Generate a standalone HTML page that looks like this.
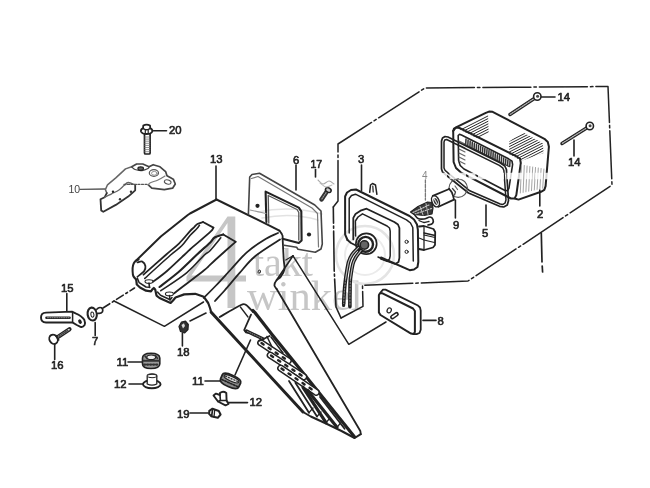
<!DOCTYPE html>
<html><head><meta charset="utf-8"><title>diagram</title>
<style>
html,body{margin:0;padding:0;background:#fff;}
body{width:650px;height:488px;overflow:hidden;font-family:"Liberation Sans",sans-serif;}
svg{display:block;}
</style></head><body>
<svg width="650" height="488" viewBox="0 0 650 488" stroke-linecap="round" stroke-linejoin="round">
<defs><filter id="b" x="0" y="0" width="650" height="488" filterUnits="userSpaceOnUse"><feGaussianBlur stdDeviation="0.38"/></filter></defs>
<rect width="650" height="488" fill="#fff"/>
<g filter="url(#b)">
<path d="M227.5 216.5 L235.3 216.5 L235.3 275.6 L246 275.6 L246 281.4 L235.3 281.4 L235.3 308 L227.5 308 L227.5 281.4 L186.5 281.4 L186.5 276.5 Z M227.5 223 L191.5 275.6 L227.5 275.6 Z" fill="#c6c6c6" fill-rule="evenodd"/>
<text x="253" y="275.5" font-size="40" fill="#c6c6c6" font-weight="normal" text-anchor="start" font-family="'Liberation Serif', serif" >takt</text>
<text x="247" y="309.5" font-size="42.5" fill="#c6c6c6" font-weight="normal" text-anchor="start" font-family="'Liberation Serif', serif" >winkel</text>
<circle cx="365" cy="255" r="29" fill="none" stroke="#e4e4e4" stroke-width="2.5"/>
<circle cx="365" cy="255" r="20" fill="none" stroke="#ebebeb" stroke-width="2"/>
<path d="M258 212 Q290 205 322 214 M262 218 Q292 212 318 220" fill="none" stroke="#e2e2e2" stroke-width="1.5"/>
<path d="M341 318 L336 307 L334.2 270 L333.3 207" stroke="#222" stroke-width="1.6" fill="none" stroke-dasharray="40 3 2 3" />
<path d="M333.3 207 L338 201 L338 144 L425 88 L608 86.5 L612 185 L468 281 L362.5 285.4 L363 306.3 L341 318" stroke="#222" stroke-width="1.5" fill="none" stroke-dasharray="48 3 2.5 3" />
<path d="M541.3 233 L542 262" stroke="#222" stroke-width="1.7" fill="none" />
<path d="M542.2 266 L542.6 272" stroke="#222" stroke-width="1.7" fill="none" />
<path d="M293 255.8 L348.8 344.3 L386 322" stroke="#222" stroke-width="1.5" fill="none" />
<path d="M114 301 L164.4 326.3 L203.5 302" stroke="#222" stroke-width="1.5" fill="none" />
<path d="M103 308 L134.5 288" stroke="#222" stroke-width="1.6" fill="none" stroke-dasharray="8 3 2 3" />
<path d="M190 321 L206 313" stroke="#222" stroke-width="1.6" fill="none" />
<path d="M250.5 340 L235 375" stroke="#222" stroke-width="1.6" fill="none" />
<text x="169" y="133.9" font-size="11.3" fill="#222" font-weight="normal" text-anchor="start" font-family="'Liberation Sans', sans-serif" stroke="#222" stroke-width="0.6">20</text>
<text x="68.5" y="193.3" font-size="10.5" fill="#444" font-weight="normal" text-anchor="start" font-family="'Liberation Sans', sans-serif" >10</text>
<text x="210" y="163.1" font-size="11.3" fill="#222" font-weight="normal" text-anchor="start" font-family="'Liberation Sans', sans-serif" stroke="#222" stroke-width="0.6">13</text>
<text x="293" y="163.6" font-size="11.3" fill="#222" font-weight="normal" text-anchor="start" font-family="'Liberation Sans', sans-serif" stroke="#222" stroke-width="0.6">6</text>
<text x="310.5" y="167.6" font-size="10.5" fill="#222" font-weight="normal" text-anchor="start" font-family="'Liberation Sans', sans-serif" stroke="#222" stroke-width="0.6">17</text>
<text x="358" y="162.6" font-size="11.3" fill="#222" font-weight="normal" text-anchor="start" font-family="'Liberation Sans', sans-serif" stroke="#222" stroke-width="0.6">3</text>
<text x="422" y="178.5" font-size="10" fill="#888" font-weight="normal" text-anchor="start" font-family="'Liberation Sans', sans-serif" >4</text>
<text x="453" y="229.1" font-size="11.3" fill="#222" font-weight="normal" text-anchor="start" font-family="'Liberation Sans', sans-serif" stroke="#222" stroke-width="0.6">9</text>
<text x="482" y="237.1" font-size="11.3" fill="#222" font-weight="normal" text-anchor="start" font-family="'Liberation Sans', sans-serif" stroke="#222" stroke-width="0.6">5</text>
<text x="537" y="217.6" font-size="11.3" fill="#222" font-weight="normal" text-anchor="start" font-family="'Liberation Sans', sans-serif" stroke="#222" stroke-width="0.6">2</text>
<text x="557.5" y="101.1" font-size="11.3" fill="#222" font-weight="normal" text-anchor="start" font-family="'Liberation Sans', sans-serif" stroke="#222" stroke-width="0.6">14</text>
<text x="568" y="166.1" font-size="11.3" fill="#222" font-weight="normal" text-anchor="start" font-family="'Liberation Sans', sans-serif" stroke="#222" stroke-width="0.6">14</text>
<text x="437.5" y="325.1" font-size="11.3" fill="#222" font-weight="normal" text-anchor="start" font-family="'Liberation Sans', sans-serif" stroke="#222" stroke-width="0.6">8</text>
<text x="61" y="292.1" font-size="11.3" fill="#222" font-weight="normal" text-anchor="start" font-family="'Liberation Sans', sans-serif" stroke="#222" stroke-width="0.6">15</text>
<text x="92" y="345.1" font-size="11.3" fill="#222" font-weight="normal" text-anchor="start" font-family="'Liberation Sans', sans-serif" stroke="#222" stroke-width="0.6">7</text>
<text x="51" y="369.1" font-size="11.3" fill="#222" font-weight="normal" text-anchor="start" font-family="'Liberation Sans', sans-serif" stroke="#222" stroke-width="0.6">16</text>
<text x="177" y="356.1" font-size="11.3" fill="#222" font-weight="normal" text-anchor="start" font-family="'Liberation Sans', sans-serif" stroke="#222" stroke-width="0.6">18</text>
<text x="116.5" y="366.1" font-size="11.3" fill="#222" font-weight="normal" text-anchor="start" font-family="'Liberation Sans', sans-serif" stroke="#222" stroke-width="0.6">11</text>
<text x="114" y="388.1" font-size="11.3" fill="#222" font-weight="normal" text-anchor="start" font-family="'Liberation Sans', sans-serif" stroke="#222" stroke-width="0.6">12</text>
<text x="192" y="385.1" font-size="11.3" fill="#222" font-weight="normal" text-anchor="start" font-family="'Liberation Sans', sans-serif" stroke="#222" stroke-width="0.6">11</text>
<text x="249.5" y="406.1" font-size="11.3" fill="#222" font-weight="normal" text-anchor="start" font-family="'Liberation Sans', sans-serif" stroke="#222" stroke-width="0.6">12</text>
<text x="177" y="418.1" font-size="11.3" fill="#222" font-weight="normal" text-anchor="start" font-family="'Liberation Sans', sans-serif" stroke="#222" stroke-width="0.6">19</text>
<path d="M153.5 130.7 L166.5 130.7" stroke="#222" stroke-width="1.6" fill="none" />
<path d="M80 189.4 L105 189" stroke="#555" stroke-width="1.3" fill="none" />
<path d="M216 166 L216 200" stroke="#222" stroke-width="1.6" fill="none" />
<path d="M296 165 L296 190" stroke="#222" stroke-width="1.6" fill="none" />
<path d="M315.5 169.5 L315.5 177" stroke="#222" stroke-width="1.6" fill="none" />
<path d="M361.5 165 L361.5 190.5" stroke="#222" stroke-width="1.6" fill="none" />
<path d="M425.4 180 L425.4 200" stroke="#777" stroke-width="1.3" fill="none" stroke-dasharray="3 1.5" />
<path d="M455.4 200 L455.4 218" stroke="#222" stroke-width="1.6" fill="none" />
<path d="M486 205 L486 226" stroke="#222" stroke-width="1.6" fill="none" />
<path d="M539.8 190 L539.8 206" stroke="#222" stroke-width="1.6" fill="none" />
<path d="M540 97 L555 97" stroke="#222" stroke-width="1.6" fill="none" />
<path d="M574 140 L574 156" stroke="#222" stroke-width="1.6" fill="none" />
<path d="M423 320.4 L436 320.4" stroke="#222" stroke-width="1.6" fill="none" />
<path d="M66.8 293.5 L66.8 311" stroke="#222" stroke-width="1.6" fill="none" />
<path d="M95.2 322.5 L95.2 335.5" stroke="#222" stroke-width="1.6" fill="none" />
<path d="M54.7 344.5 L54.7 359.5" stroke="#222" stroke-width="1.6" fill="none" />
<path d="M182.4 333 L182.4 346" stroke="#222" stroke-width="1.6" fill="none" />
<path d="M128 362 L142 362" stroke="#222" stroke-width="1.6" fill="none" />
<path d="M129 384 L143 384" stroke="#222" stroke-width="1.6" fill="none" />
<path d="M205 381 L220 381" stroke="#222" stroke-width="1.6" fill="none" />
<path d="M228 402.6 L247.5 402.6" stroke="#222" stroke-width="1.6" fill="none" />
<path d="M190 413 L208 413" stroke="#222" stroke-width="1.6" fill="none" />
<path d="M136.2 260.5 L160.8 236.5 L187.8 215 L190 213.5 L216.5 199.5" stroke="#222" stroke-width="2" fill="none" />
<path d="M216.5 199.5 L270 225.8 L279.4 230.7" stroke="#222" stroke-width="2" fill="none" />
<path d="M138.6 259.5 C138 259.8 135.9 260.5 135 261.5 C134.1 262.5 133.4 263.9 133 265.5 C132.6 267.1 132.5 269.2 132.6 271 C132.7 272.8 132.7 274.6 133.3 276 C133.9 277.4 135.7 279 136.2 279.6" stroke="#222" stroke-width="2" fill="none" />
<path d="M137.4 262.4 C138.2 262.3 141 261 142.3 261.6 C143.6 262.2 145.1 264.4 145.4 266 C145.7 267.6 145.5 269.2 144.2 271 C142.9 272.8 138.5 275.8 137.4 276.8" stroke="#222" stroke-width="1.8" fill="none" />
<path d="M136.2 279.6 L136.8 284.5 L140 287.5 L146 290.7 L151 291.3 L152.3 289.4 L153.8 288 L155.2 289.5 L156.5 295.6 L159.5 298 L170.6 303 L173 300.5 L175.5 297.5 L184.2 294.4 L195.2 293.8 L203.8 296.8 L208.2 303 L210 308 L211.2 312.3" stroke="#222" stroke-width="2.2" fill="none" />
<path d="M137.4 278.4 L139.2 282.7 L146 287 L149.7 287.3" stroke="#222" stroke-width="1.5" fill="none" />
<path d="M157.5 292 L160.5 295.3 L170.2 299.8 L172 297.5" stroke="#222" stroke-width="1.5" fill="none" />
<path d="M149 283 L149.5 287.5" stroke="#222" stroke-width="1.6" fill="none" />
<path d="M169.5 295.5 L170 300" stroke="#222" stroke-width="1.6" fill="none" />
<ellipse cx="149" cy="281.6" rx="4" ry="1.9" fill="none" stroke="#222" stroke-width="1.1"/>
<ellipse cx="169.4" cy="293.9" rx="4" ry="1.9" fill="none" stroke="#222" stroke-width="1.1"/>
<path d="M143.5 274.7 C147.2 271.4 159.8 260.2 165.7 255 C171.6 249.8 175.1 247.3 179.2 243.3 C183.2 239.3 187.5 233.9 190 231.2 C192.5 228.5 192.8 228.5 194 227.3 C195.2 226.1 195.9 224.9 197.4 224 C198.9 223.1 202.1 222.3 203 222" stroke="#222" stroke-width="1.8" fill="none" />
<path d="M144.8 278.4 C149.1 274.5 164.4 260.4 170.6 255 C176.8 249.6 178.5 249.1 181.7 245.8 C184.9 242.6 187.4 238.4 190 235.5 C192.6 232.6 195.4 230.2 197 228.5 C198.6 226.8 199 225.8 199.4 225.3" stroke="#222" stroke-width="1.6" fill="none" />
<path d="M203 222 L213.4 227.6" stroke="#222" stroke-width="1.8" fill="none" />
<path d="M213.4 227.6 C212.8 228.4 213.9 228.5 210 232.2 C206.1 235.8 194.3 245.7 190 249.5 C185.7 253.3 188 251.4 184.2 255 C180.4 258.6 172.1 266.6 167 271 C161.9 275.4 155.7 279.8 153.4 281.5" stroke="#222" stroke-width="1.8" fill="none" />
<path d="M159.5 287 C162.7 284.5 172.4 277.3 178.6 272 C184.8 266.7 191.3 259.9 196.5 255 C201.7 250.1 207 245.6 210 242.7 C213 239.8 212.4 238.9 214.6 237.5 C216.8 236.1 221.8 234.9 223.2 234.4" stroke="#222" stroke-width="2.1" fill="none" />
<path d="M160.8 290.7 C165.1 287.7 179.4 278.7 186.6 272.8 C193.8 266.9 199.9 259.2 203.8 255.5 C207.7 251.8 207.2 253.6 210 250.7 C212.8 247.8 219 240 220.8 237.8" stroke="#222" stroke-width="1.6" fill="none" />
<path d="M223.2 234.4 L235.6 241.8" stroke="#222" stroke-width="1.8" fill="none" />
<path d="M235.6 241.8 C233.1 244 225.1 251.2 220.8 255 C216.5 258.8 212.8 262.2 210 264.8 C207.2 267.4 209.8 265.8 203.8 270.5 C197.9 275.2 179.2 289.4 174.3 293.2" stroke="#222" stroke-width="1.8" fill="none" />
<path d="M278 233 C275.7 234.2 269.2 236.8 264 240 C258.8 243.2 252.3 247.4 246.8 252.3 C241.3 257.2 235.9 264 230.8 269.5 C225.7 275 220.5 280.8 216 285.5 C211.5 290.2 205.8 295.8 203.7 297.8" stroke="#222" stroke-width="1.8" fill="none" />
<path d="M280 239.5 C275.9 242.2 262.2 250.4 255.4 256 C248.6 261.6 244.5 267.4 239.4 273.2 C234.3 278.9 228.7 285.9 224.6 290.5 C220.5 295.1 216.6 299.2 215 301" stroke="#222" stroke-width="1.8" fill="none" />
<path d="M279.4 230.7 C279.9 231.4 281.8 233.4 282.3 235 C282.9 236.6 282.5 235.9 282.7 240 C282.9 244.1 283.4 254.5 283.7 259.4 C284 264.3 284.9 266.6 284.4 269.5 C283.9 272.4 282.1 274.8 280.8 276.6 C279.5 278.4 277.6 278.8 276.5 280.2 C275.4 281.6 274.4 283.9 274.4 285.3 C274.4 286.7 276.1 288.2 276.5 288.8" stroke="#222" stroke-width="1.8" fill="none" />
<path d="M293 255.8 L276.5 280.2" stroke="#222" stroke-width="1.6" fill="none" />
<path d="M293 255.8 L285.8 260" stroke="#222" stroke-width="1.3" fill="none" />
<path d="M276.5 288.8 L306 338.8 L360.3 431 L360.8 434.2" stroke="#222" stroke-width="1.8" fill="none" />
<ellipse cx="259.3" cy="271.6" rx="1.1" ry="1.7" transform="rotate(20 259.3 271.6)" fill="none" stroke="#222" stroke-width="0.9"/>
<path d="M211.2 312.3 L303 412" stroke="#222" stroke-width="3" fill="none" />
<path d="M303 412 L310.8 416.5 L326 423.5 L341.5 431 L354.6 438 L360.8 434.2" stroke="#222" stroke-width="2" fill="none" />
<path d="M219.7 317 C223 315.1 235.1 307.9 239.4 305.8 C243.7 303.7 243.2 303.6 245.5 304.6 C247.8 305.6 251.8 310.8 253 312" stroke="#222" stroke-width="1.8" fill="none" />
<path d="M253 310.5 L254.7 312.3 L272 334.5 L306 376.5 L354.6 437" stroke="#222" stroke-width="3.2" fill="none" />
<path d="M248.4 214 L249.7 177 L252 174.5 L259.5 173.2 L314.8 205 L321 211 L322.3 244 L321 249 L315.3 252.3 L298 249.2 L296.6 247.2 L284 245.3" stroke="#444" stroke-width="1.6" fill="none" />
<path d="M251.5 178.5 L258 176.5 L312 208 L317.5 213.5 L318.5 247" stroke="#777" stroke-width="1.2" fill="none" />
<path d="M266.4 222 L265.6 191.6 L298.8 207.6 L301.3 211.3 L301.6 240.5 L298.8 243 L282.5 238.8" stroke="#222" stroke-width="2.1" fill="none" />
<path d="M268.8 223 L268.2 195.5 L297 209.5 L298.8 212.5 L298.8 240" stroke="#555" stroke-width="1.3" fill="none" />
<circle cx="257.5" cy="205.8" r="2.1" fill="#222"/>
<circle cx="309" cy="234.5" r="2.1" fill="#222"/>
<path d="M250 210 L266 213.5" stroke="#999" stroke-width="1.1" fill="none" />
<path d="M327.5 190.5 L321.5 199.5" stroke="#333" stroke-width="4.5" fill="none" />
<path d="M327.3 190.8 L321.7 199.2" stroke="#999" stroke-width="1.1" fill="none" stroke-dasharray="1 1.2" />
<ellipse cx="328.3" cy="190" rx="3" ry="2.1" fill="#ccc" stroke="#222" stroke-width="1.5" transform="rotate(30 328.3 190)"/>
<path d="M318 180 C318.8 180.7 321.2 183.8 323 184 C324.8 184.2 327.2 181 329 181 C330.8 181 333.2 183.5 334 184" stroke="#aaa" stroke-width="1.1" fill="none" />
<path d="M320 183 C321 183.7 324 186.7 326 187 C328 187.3 331 185.3 332 185" stroke="#bbb" stroke-width="1.1" fill="none" />
<path d="M347.5 240 L345.1 234.3 L345.1 196.5 L347 192.5 L351 190 L356 189.5 L409.5 216 L414 219.5 L417 224.5 L417.9 230 L418.3 262 L417.5 267 L414 269.5 L409.7 270.2 L381 257.5" stroke="#222" stroke-width="2" fill="none" />
<path d="M347.5 240 L351 243 L357 246" stroke="#222" stroke-width="1.8" fill="none" />
<path d="M349.2 233 L349.2 198.5 L351.5 195.5 L355.4 194.2 L406.5 219.8 L410.5 223 L412.8 227.5 L413.3 261" stroke="#222" stroke-width="1.5" fill="none" />
<path d="M353.3 239.4 L353.3 217.9 L355.5 214 L360.5 210.7 L366.6 208.7 L394.3 222 L398 224.5 L399.4 228 L399.4 257.9 L398.5 262 L395.3 264 L381 258.9" stroke="#222" stroke-width="1.8" fill="none" />
<path d="M355.6 236 L355.4 221 L358 217 L362.5 213.8 L387.1 226 L389.5 228 L390.2 231.2 L390.2 255.8 L389.5 259 L387.1 261 L378 257" stroke="#222" stroke-width="1.5" fill="none" />
<path d="M369.7 192.3 L370.5 185 L372.5 183.5 L375.5 185 L376.9 194.3" stroke="#222" stroke-width="1.5" fill="none" />
<path d="M372.8 186 L373.2 192" stroke="#222" stroke-width="1.2" fill="none" />
<circle cx="366.3" cy="243.8" r="10.4" fill="#fff" stroke="#222" stroke-width="1.7"/>
<circle cx="365.6" cy="244.3" r="7.4" fill="none" stroke="#222" stroke-width="2.4"/>
<circle cx="364.4" cy="245" r="4.2" fill="#666" stroke="#222" stroke-width="1.6"/>
<path d="M358.5 247.5 C357.5 248.6 354.1 251.6 352.5 254 C350.9 256.4 349.8 257.8 348.6 262 C347.5 266.2 346.3 274 345.6 279 C344.9 284 344.6 287.8 344.3 292 C344 296.2 343.8 302 343.7 304" stroke="#1c1c1c" stroke-width="3.6" fill="none" />
<path d="M358.5 247.5 C357.5 248.6 354.1 251.6 352.5 254 C350.9 256.4 349.8 257.8 348.6 262 C347.5 266.2 346.1 276.2 345.6 279" stroke="#bbb" stroke-width="1.1" fill="none" />
<path d="M345.6 279 C345.4 281.2 344.6 287.8 344.3 292 C344 296.2 343.8 302 343.7 304" stroke="#888" stroke-width="1.1" fill="none" stroke-dasharray="1.5 1.5" />
<path d="M361 250.5 C360.2 251.6 357.4 254.7 356 257 C354.6 259.3 353.7 260.7 352.8 264.4 C351.9 268.1 350.9 274.4 350.4 279 C349.9 283.6 350.1 287.5 350 292 C349.9 296.5 349.9 303.7 349.9 306" stroke="#1c1c1c" stroke-width="3.6" fill="none" />
<path d="M361 250.5 C360.2 251.6 357.4 254.7 356 257 C354.6 259.3 353.7 260.7 352.8 264.4 C351.9 268.1 350.8 276.6 350.4 279" stroke="#bbb" stroke-width="1.1" fill="none" />
<path d="M350.4 279 C350.3 281.2 350.1 287.5 350 292 C349.9 296.5 349.9 303.7 349.9 306" stroke="#888" stroke-width="1.1" fill="none" stroke-dasharray="1.5 1.5" />
<circle cx="343.6" cy="305.5" r="1.6" fill="#222"/><circle cx="349.9" cy="307" r="1.6" fill="#222"/>
<circle cx="406.6" cy="241.8" r="1.6" fill="#fff" stroke="#222" stroke-width="1"/>
<circle cx="406.6" cy="251.8" r="1.6" fill="#fff" stroke="#222" stroke-width="1"/>
<path d="M410.5 212 L418 206.5 L427.5 202 L432 202.5 L433 208 L432 214 L424 215.5 L414 214.5 Z" fill="#3a3a3a" stroke="#222" stroke-width="1.2"/>
<path d="M413 212.5 L430 204.5" stroke="#ccc" stroke-width="1.1" fill="none" stroke-dasharray="1.5 1.2" />
<path d="M415 214 L431.5 208.5" stroke="#ccc" stroke-width="1.1" fill="none" stroke-dasharray="1.2 1.5" />
<path d="M420 206.5 L423 215" stroke="#ccc" stroke-width="0.9" fill="none" />
<path d="M426 203.5 L428 214.5" stroke="#bbb" stroke-width="0.9" fill="none" />
<path d="M414.8 215 C415.3 215.6 416.5 217.8 418 218.5 C419.5 219.2 422 219.2 424 219 C426 218.8 428.5 216.9 430 217 C431.5 217.1 432.6 218.4 433 219.5 C433.4 220.6 433.3 222.6 432.5 223.5 C431.7 224.4 428.8 224.8 428 225" stroke="#222" stroke-width="1.7" fill="none" />
<path d="M419 220.5 C419.8 220.8 422.3 222.3 424 222.5 C425.7 222.7 428.2 221.7 429 221.5" stroke="#222" stroke-width="1.3" fill="none" />
<path d="M419 226.5 L424 226 L433.5 229 L435.2 232 L435 245 L433 247.5 L424 250 L419 249" stroke="#222" stroke-width="1.8" fill="none" />
<path d="M424 233 L435 235.5" stroke="#222" stroke-width="1.5" fill="none" />
<path d="M424 235 L435 237.5" stroke="#222" stroke-width="1.2" fill="none" />
<path d="M424 226.5 L424 250" stroke="#222" stroke-width="1.3" fill="none" />
<path d="M419 238 L424 240 L434.5 242.5" stroke="#222" stroke-width="1.2" fill="none" />
<path d="M453.2 131 L454 128.5 L457 126.8 L485.8 112.9 L489 111.6 L492.6 111.8 L544.4 138.8 L547.8 142 L548.9 146.7 L545.6 186.1 L544.3 189.8 L541 191.8 L518.5 199.6 L515.5 198.8" stroke="#222" stroke-width="2" fill="none" />
<path d="M453.2 131 L453.6 162 L456 168 L461 172.6 L511 198.5 L514.5 198.6 L516.3 195.1 L520.8 163 L520 158.5 L515.1 155.7 L459.5 128 L456 127.5 L453.2 131" stroke="#222" stroke-width="2" fill="none" />
<path d="M458.2 135.5 L458.6 160.5 L460.2 165.5 L464 169 L505 190.5 L507.6 190.6 L509 188 L512.6 164.5 L512 161.2 L508.5 158.8 L462 135.3 L459.5 134.3 L458.2 135.5" stroke="#222" stroke-width="1.6" fill="none" />
<clipPath id="hc1"><path d="M457.5 128.6 L488 113.2 L489 144 Z"/></clipPath>
<clipPath id="hc2"><path d="M509.2 141.4 L522.3 132 L542.8 143.3 L543.6 153 L521.5 160.8 L509.2 154.3 Z"/></clipPath>
<g clip-path="url(#hc1)">
<path d="M457.2 131.6 L496.2 111.8" stroke="#2a2a2a" stroke-width="1" fill="none" />
<path d="M459.9 132.9 L498.9 113.1" stroke="#2a2a2a" stroke-width="1" fill="none" />
<path d="M462.6 134.2 L501.6 114.4" stroke="#2a2a2a" stroke-width="1" fill="none" />
<path d="M465.3 135.5 L504.3 115.7" stroke="#2a2a2a" stroke-width="1" fill="none" />
<path d="M468 136.8 L507 117" stroke="#2a2a2a" stroke-width="1" fill="none" />
<path d="M470.7 138.1 L509.7 118.3" stroke="#2a2a2a" stroke-width="1" fill="none" />
<path d="M473.4 139.4 L512.4 119.6" stroke="#2a2a2a" stroke-width="1" fill="none" />
</g>
<g clip-path="url(#hc2)">
<path d="M493.2 149.5 L539.2 126.1" stroke="#2a2a2a" stroke-width="1" fill="none" />
<path d="M495.9 150.8 L541.9 127.4" stroke="#2a2a2a" stroke-width="1" fill="none" />
<path d="M498.6 152.1 L544.6 128.7" stroke="#2a2a2a" stroke-width="1" fill="none" />
<path d="M501.3 153.4 L547.3 130" stroke="#2a2a2a" stroke-width="1" fill="none" />
<path d="M504 154.7 L550 131.3" stroke="#2a2a2a" stroke-width="1" fill="none" />
<path d="M506.7 156 L552.7 132.6" stroke="#2a2a2a" stroke-width="1" fill="none" />
<path d="M509.4 157.3 L555.4 133.9" stroke="#2a2a2a" stroke-width="1" fill="none" />
<path d="M512.1 158.6 L558.1 135.2" stroke="#2a2a2a" stroke-width="1" fill="none" />
<path d="M514.8 159.9 L560.8 136.5" stroke="#2a2a2a" stroke-width="1" fill="none" />
<path d="M517.5 161.2 L563.5 137.8" stroke="#2a2a2a" stroke-width="1" fill="none" />
<path d="M520.2 162.5 L566.2 139.1" stroke="#2a2a2a" stroke-width="1" fill="none" />
<path d="M522.9 163.8 L568.9 140.4" stroke="#2a2a2a" stroke-width="1" fill="none" />
<path d="M525.6 165.1 L571.6 141.7" stroke="#2a2a2a" stroke-width="1" fill="none" />
</g>
<path d="M521.5 165 L520.3 193" stroke="#999" stroke-width="0.9" fill="none" />
<path d="M524.3 165.5 L523.1 192.4" stroke="#999" stroke-width="0.9" fill="none" />
<path d="M527.1 166 L525.9 191.8" stroke="#999" stroke-width="0.9" fill="none" />
<path d="M529.9 166.5 L528.7 191.2" stroke="#999" stroke-width="0.9" fill="none" />
<path d="M532.7 167 L531.5 190.6" stroke="#999" stroke-width="0.9" fill="none" />
<path d="M535.5 167.5 L534.3 190" stroke="#999" stroke-width="0.9" fill="none" />
<path d="M538.3 168 L537.1 189.4" stroke="#999" stroke-width="0.9" fill="none" />
<path d="M541.1 168.5 L539.9 188.8" stroke="#999" stroke-width="0.9" fill="none" />
<path d="M543.9 169 L542.7 188.2" stroke="#999" stroke-width="0.9" fill="none" />
<path d="M466 139 L465.7 144.5" stroke="#333" stroke-width="1.5" fill="none" />
<path d="M468.1 140 L467.8 145.5" stroke="#333" stroke-width="1.5" fill="none" />
<path d="M470.2 141.1 L469.9 146.6" stroke="#333" stroke-width="1.5" fill="none" />
<path d="M472.3 142.1 L472 147.6" stroke="#333" stroke-width="1.5" fill="none" />
<path d="M474.4 143.2 L474.1 148.7" stroke="#333" stroke-width="1.5" fill="none" />
<path d="M476.5 144.2 L476.2 149.7" stroke="#333" stroke-width="1.5" fill="none" />
<path d="M478.6 145.3 L478.3 150.8" stroke="#333" stroke-width="1.5" fill="none" />
<path d="M480.7 146.3 L480.4 151.8" stroke="#333" stroke-width="1.5" fill="none" />
<path d="M482.8 147.4 L482.5 152.9" stroke="#333" stroke-width="1.5" fill="none" />
<path d="M484.9 148.4 L484.6 153.9" stroke="#333" stroke-width="1.5" fill="none" />
<path d="M487 149.5 L486.7 155" stroke="#333" stroke-width="1.5" fill="none" />
<path d="M489 150.5 L488.7 156" stroke="#333" stroke-width="1.5" fill="none" />
<path d="M491.1 151.6 L490.8 157.1" stroke="#333" stroke-width="1.5" fill="none" />
<path d="M493.2 152.6 L492.9 158.1" stroke="#333" stroke-width="1.5" fill="none" />
<path d="M495.3 153.7 L495 159.2" stroke="#333" stroke-width="1.5" fill="none" />
<path d="M497.4 154.7 L497.1 160.2" stroke="#333" stroke-width="1.5" fill="none" />
<path d="M499.5 155.8 L499.2 161.3" stroke="#333" stroke-width="1.5" fill="none" />
<path d="M501.6 156.8 L501.3 162.3" stroke="#333" stroke-width="1.5" fill="none" />
<path d="M503.7 157.9 L503.4 163.4" stroke="#333" stroke-width="1.5" fill="none" />
<path d="M505.8 158.9 L505.5 164.4" stroke="#333" stroke-width="1.5" fill="none" />
<path d="M507.9 160 L507.6 165.5" stroke="#333" stroke-width="1.5" fill="none" />
<path d="M510 161 L509.7 166.5" stroke="#333" stroke-width="1.5" fill="none" />
<path d="M464 144 L509 166.5" stroke="#333" stroke-width="1.3" fill="none" />
<path d="M459 141 L465 144" stroke="#666" stroke-width="1.1" fill="none" />
<path d="M459 145 L465 148" stroke="#666" stroke-width="1.1" fill="none" />
<path d="M459 149 L465 152" stroke="#666" stroke-width="1.1" fill="none" />
<path d="M459 153 L465 156" stroke="#666" stroke-width="1.1" fill="none" />
<path d="M459 157 L465 160" stroke="#666" stroke-width="1.1" fill="none" />
<path d="M459 161 L465 164" stroke="#666" stroke-width="1.1" fill="none" />
<path d="M441.5 141 L442.5 138 L445 136.5 L448 137 L500.5 163 L504.8 166 L506.4 169.3 L508.5 200.5 L507.3 205 L503.7 207 L499.5 206.3 L468.5 193 L446 175 L442.5 172 L441.5 169 Z" stroke="#222" stroke-width="1.7" fill="none" />
<path d="M444 142 L444.7 140 L446.7 139.5 L499.3 165.3 L502.7 167.8 L503.9 170.5 L506 199.8 L505.1 203 L503 204.4 L500.2 204 L469.8 190.8 L447.6 172.6 L445 170.2 L444 168 Z" stroke="#222" stroke-width="1.5" fill="none" />
<circle cx="458.2" cy="188.1" r="9.2" fill="none" stroke="#555" stroke-width="1.2"/>
<path d="M432.8 195.8 L449.2 189 L454 199.6 L438.5 206.8 Z" fill="#fff" stroke="none"/>
<path d="M432.8 195.8 L449.2 189" stroke="#222" stroke-width="1.8" fill="none" />
<path d="M438.5 206.8 L454 199.6" stroke="#222" stroke-width="1.8" fill="none" />
<ellipse cx="435.5" cy="201.3" rx="3.6" ry="5.8" transform="rotate(-22 435.5 201.3)" fill="#fff" stroke="#222" stroke-width="1.5"/>
<ellipse cx="435.8" cy="201.5" rx="2.0" ry="3.6" transform="rotate(-22 435.8 201.5)" fill="#333" stroke="none"/>
<path d="M434 198.5 L437.5 204.5" stroke="#ddd" stroke-width="1.1" fill="none" />
<path d="M449.2 189 C449.7 189.6 451.2 190.7 452 192.5 C452.8 194.3 453.7 198.4 454 199.6" stroke="#222" stroke-width="1.7" fill="none" />
<path d="M452.5 188.5 L455.5 192 L454.5 195" stroke="#444" stroke-width="1.3" fill="none" />
<path d="M455 186 L457.5 189.5" stroke="#666" stroke-width="1.2" fill="none" />
<path d="M537.3 96.5 L510 114.5" stroke="#222" stroke-width="3.4" fill="none" />
<path d="M537.3 96.5 L510 114.5" stroke="#bbb" stroke-width="1.2" fill="none" stroke-dasharray="1.2 1.2" />
<circle cx="537.3" cy="96.5" r="3.7" fill="#fff" stroke="#222" stroke-width="1.6"/>
<circle cx="537.5999999999999" cy="96.3" r="1.5" fill="#444"/>
<path d="M589.8 126 L562 143.5" stroke="#222" stroke-width="3.4" fill="none" />
<path d="M589.8 126 L562 143.5" stroke="#bbb" stroke-width="1.2" fill="none" stroke-dasharray="1.2 1.2" />
<circle cx="589.8" cy="126" r="3.7" fill="#fff" stroke="#222" stroke-width="1.6"/>
<circle cx="590.0999999999999" cy="125.8" r="1.5" fill="#444"/>
<path d="M378.9 295 L380 293.2 L382 293.2 L413 308.5 L414.9 311 L414.9 332 L413.5 334 L411 333.6 L380.5 315 L378.9 312.5 Z" stroke="#222" stroke-width="2" fill="none" />
<path d="M380.5 292.5 L383 289.6 L385.5 289.6 L417.4 305.2 L420 307.5 L420.7 310.5 L420.7 329.8 L419.5 333 L416.6 334.2 L413.5 334" stroke="#222" stroke-width="1.8" fill="none" />
<ellipse cx="389.2" cy="310.4" rx="2.0" ry="2.6" transform="rotate(25 389.2 310.4)" fill="#fff" stroke="#222" stroke-width="1.2"/>
<path d="M392.3 317.2 L396.6 314.2" stroke="#222" stroke-width="4.5" fill="none" />
<path d="M392.5 317 L396.4 314.4" stroke="#fff" stroke-width="1.6" fill="none" />
<rect x="144.5" y="133" width="5.6" height="21" rx="1" fill="#fff" stroke="#222" stroke-width="1.7"/>
<path d="M144.8 137 L149.8 137" stroke="#777" stroke-width="0.8" fill="none" />
<path d="M144.8 139.1 L149.8 139.1" stroke="#777" stroke-width="0.8" fill="none" />
<path d="M144.8 141.2 L149.8 141.2" stroke="#777" stroke-width="0.8" fill="none" />
<path d="M144.8 143.3 L149.8 143.3" stroke="#777" stroke-width="0.8" fill="none" />
<path d="M144.8 145.4 L149.8 145.4" stroke="#777" stroke-width="0.8" fill="none" />
<path d="M144.8 147.5 L149.8 147.5" stroke="#777" stroke-width="0.8" fill="none" />
<path d="M144.8 149.6 L149.8 149.6" stroke="#777" stroke-width="0.8" fill="none" />
<path d="M144.8 151.7 L149.8 151.7" stroke="#777" stroke-width="0.8" fill="none" />
<path d="M141 131.5 Q140.6 128.8 143 128.3 L143.3 125.5 Q146.5 123.6 150 125.5 L150.3 128.3 Q152.6 128.8 152.3 131.5 Q151.5 134 146.6 134 Q141.8 134 141 131.5 Z" fill="#fff" stroke="#222" stroke-width="1.8"/>
<path d="M143 128.5 C143.6 128.7 145.4 129.8 146.6 129.8 C147.8 129.8 149.7 128.7 150.3 128.5" stroke="#222" stroke-width="1.5" fill="none" />
<path d="M145.3 129.8 L145.3 133" stroke="#222" stroke-width="1.2" fill="none" />
<path d="M148.2 129.8 L148.2 133" stroke="#222" stroke-width="1.2" fill="none" />
<path d="M131.7 166.8 L136.6 164 L142.8 164 L149 166.8 L153.2 164.7 L160 166.8 L165.6 171.6 L167 175.8 L173.3 179.2 L175.3 184 L172.6 188.2 L164.3 189.6 L151.8 188.2 L148.3 184.8" stroke="#444" stroke-width="1.7" fill="none" />
<path d="M131.7 166.8 L125.5 168.9 L115.8 177.9 L107.5 184.8 L105.4 189.6 L106.8 193.1" stroke="#666" stroke-width="1.5" fill="none" />
<path d="M106.8 193.1 L104.7 197.2 L100.5 199.3 L101.2 210.4 L103.3 211.8 L115.8 204.9 L128.2 196.6 L135.2 190.3 L135.2 184.8" stroke="#333" stroke-width="1.8" fill="none" />
<path d="M104.7 197.2 C105.8 196.6 109.2 195 111.6 193.8 C114 192.6 116.9 191.4 119 190 C121.1 188.6 122.5 186.8 124 185.5 C125.5 184.2 126.3 182.6 128.2 182.5 C130.1 182.4 134 184.4 135.2 184.8" stroke="#666" stroke-width="1.3" fill="none" />
<path d="M124 184.5 L148.3 184.3" stroke="#555" stroke-width="1.3" fill="none" stroke-dasharray="2 1.5" />
<path d="M131.7 166.8 C132.2 167.2 133.3 168.9 135 169.5 C136.7 170.1 139.8 170.7 142 170.5 C144.2 170.3 146.8 169.1 148 168.5 C149.2 167.9 148.8 167.1 149 166.8" stroke="#444" stroke-width="1.3" fill="none" />
<path d="M148.3 184.8 C148.7 184.5 148.8 183.5 150.4 182.7 C152 181.9 155.6 181.1 158 180 C160.4 178.9 163.8 176.7 165 176" stroke="#777" stroke-width="1.2" fill="none" />
<ellipse cx="140.7" cy="168.6" rx="2.8" ry="1.8" fill="#666" stroke="#222" stroke-width="1.2"/>
<ellipse cx="153.9" cy="173" rx="4.6" ry="3.3" fill="#fff" stroke="#555" stroke-width="1.2"/>
<ellipse cx="154.3" cy="173.3" rx="2.8" ry="1.9" fill="#fff" stroke="#888" stroke-width="0.9"/>
<ellipse cx="167.7" cy="182" rx="3.4" ry="2" transform="rotate(15 167.7 182)" fill="#fff" stroke="#555" stroke-width="1.1"/>
<circle cx="113" cy="191.7" r="1.2" fill="#222"/><circle cx="131" cy="191.7" r="1.2" fill="#333"/><circle cx="120" cy="199.3" r="1.2" fill="#333"/>
<path d="M46 312.6 L72 311.6 L75.6 313.3 Q82 316 84.3 319.8 Q85.6 323 84.6 325 Q83 327.5 80.5 326.8 L76.8 325 L72.3 322.4 L46 322.5 Q41 322.3 41 317.6 Q41 312.8 46 312.6 Z" fill="#fff" stroke="#222" stroke-width="1.9"/>
<path d="M46.5 317.7 L69.5 317.7" stroke="#222" stroke-width="2.6" fill="none" />
<path d="M47.5 317.7 L69 317.7" stroke="#aaa" stroke-width="0.8" fill="none" stroke-dasharray="1 1.3" />
<path d="M72.6 312.2 L72.6 322" stroke="#222" stroke-width="1.5" fill="none" />
<ellipse cx="80" cy="321.6" rx="1.7" ry="2.4" transform="rotate(-25 80 321.6)" fill="#222"/>
<ellipse cx="92.2" cy="314.1" rx="4.6" ry="6.5" transform="rotate(-8 92.2 314.1)" fill="#fff" stroke="#222" stroke-width="2.1"/>
<ellipse cx="92.4" cy="314.6" rx="1.5" ry="2.6" transform="rotate(-8 92.4 314.6)" fill="#fff" stroke="#222" stroke-width="1.0"/>
<path d="M96.8 309.3 Q98.8 306.8 101.3 307.7 Q103.5 309.3 102.5 311.8 Q101 314 97.3 313.2" fill="#fff" stroke="#222" stroke-width="1.6"/>
<path d="M57.5 337.2 L69.5 329.2" stroke="#222" stroke-width="4.2" fill="none" />
<path d="M58.3 336.7 L69 329.6" stroke="#eee" stroke-width="1.5" fill="none" />
<path d="M59 336.2 L69 329.6" stroke="#444" stroke-width="1.8" fill="none" stroke-dasharray="0.8 1.6" />
<ellipse cx="53.5" cy="339.3" rx="4.0" ry="4.8" transform="rotate(-30 53.5 339.3)" fill="#fff" stroke="#222" stroke-width="1.8"/>
<path d="M56 335.5 L58.7 340" stroke="#222" stroke-width="1.6" fill="none" />
<path d="M179 326.5 L181.5 322 L185.5 321.2 L188.3 324.5 L188 329.5 L184.5 333 L180.5 331.5 Z" fill="#333" stroke="#222" stroke-width="1.2"/>
<path d="M181.5 325 L184 323.2 L185 326 L183 328.5 Z" fill="#ddd"/>
<path d="M142.5 358 Q142.5 353.2 151 353.2 Q159.5 353.2 159.8 358 L159.8 364 Q159.5 368.5 151 368.5 Q142.5 368.5 142.5 364 Z" fill="#9a9a9a" stroke="#222" stroke-width="1.6"/>
<ellipse cx="151.2" cy="357.3" rx="4.4" ry="2.3" fill="#eee" stroke="#222" stroke-width="1.1"/>
<path d="M143.5 360.8 L159 360.8" stroke="#333" stroke-width="2.1" fill="none" stroke-dasharray="1.6 1.4" />
<path d="M144 364.6 L158.5 364.6" stroke="#333" stroke-width="2.1" fill="none" stroke-dasharray="1.2 1.8" />
<path d="M145 356 L147 358.5" stroke="#333" stroke-width="1.6" fill="none" />
<path d="M155.5 355.5 L157.5 358.5" stroke="#333" stroke-width="1.6" fill="none" />
<ellipse cx="151.8" cy="384.3" rx="8.8" ry="4" fill="#fff" stroke="#222" stroke-width="1.9"/>
<path d="M147.2 384 L147.2 376 Q147.2 374 152 374 Q156.8 374 156.8 376 L156.8 384 Q152 386.3 147.2 384 Z" fill="#fff" stroke="#222" stroke-width="1.3"/>
<ellipse cx="152" cy="376" rx="4.7" ry="1.7" fill="#fff" stroke="#222" stroke-width="1"/>
<g transform="rotate(24 230.5 381)"><path d="M220.5 378.5 Q220.5 375 230.5 375 Q240.5 375 240.5 378.5 L240.5 383 Q240.5 387 230.5 387 Q220.5 387 220.5 383 Z" fill="#888" stroke="#222" stroke-width="1.8"/><ellipse cx="230.5" cy="378.6" rx="8" ry="2.4" fill="#ddd" stroke="#222" stroke-width="1.2"/><path d="M222 383.2 L239 383.2" stroke="#222" stroke-width="1.6" stroke-dasharray="1.6 1.6"/><path d="M224 378.6 L237 378.6" stroke="#333" stroke-width="1.2" stroke-dasharray="1.2 1.8"/></g>
<path d="M213.5 395.5 L216 393.6 L220 395 L220 393 Q223 390.5 226.3 393 L226.6 400.5 L228.5 404 L225.5 405.3 L218 401.5 Z" fill="#fff" stroke="#222" stroke-width="1.9"/>
<path d="M220 395 L220.4 400.5 L218 401.5" stroke="#222" stroke-width="1.6" fill="none" />
<path d="M220.4 400.5 L226.6 400.5" stroke="#222" stroke-width="1.5" fill="none" />
<path d="M209.3 410.8 L212.5 408.7 L218.8 411 L220.6 414.5 L217.8 417.8 L211.2 416.2 L209.1 413.8 Z" fill="#fff" stroke="#222" stroke-width="2"/>
<path d="M212.6 409 L211.7 416" stroke="#222" stroke-width="1.7" fill="none" />
<path d="M214.7 410 L214 417" stroke="#222" stroke-width="1.3" fill="none" />
<path d="M240.4 307 L248 317" stroke="#222" stroke-width="1.3" fill="none" />
<path d="M251 314.6 L244.2 330 L245.8 332.3 L251 333.3 L263.5 339 L269.6 336" stroke="#222" stroke-width="1.8" fill="none" />
<path d="M246.5 331 L262.7 338.8" stroke="#222" stroke-width="3.4" fill="none" />
<path d="M247.5 331.5 L262 338.4" stroke="#999" stroke-width="0.9" fill="none" stroke-dasharray="1 1.5" />
<path d="M258.9 344.9 L286.9 363.4 A2.9 2.9 0 0 0 290.1 358.6 L262.1 340.1 A2.9 2.9 0 0 0 258.9 344.9 Z" fill="#fff" stroke="#222" stroke-width="1.5"/>
<path d="M261.5 343.1 L287.5 360.4" stroke="#222" stroke-width="2.4" fill="none" stroke-dasharray="2.5 6" />
<path d="M268.4 357.4 L302.4 379.4 A2.9 2.9 0 0 0 305.6 374.6 L271.6 352.6 A2.9 2.9 0 0 0 268.4 357.4 Z" fill="#fff" stroke="#222" stroke-width="1.5"/>
<path d="M271 355.6 L303 376.4" stroke="#222" stroke-width="2.4" fill="none" stroke-dasharray="2.5 6" />
<path d="M278.9 370.4 L314.9 394.9 A2.9 2.9 0 0 0 318.1 390.1 L282.1 365.6 A2.9 2.9 0 0 0 278.9 370.4 Z" fill="#fff" stroke="#222" stroke-width="1.5"/>
<path d="M281.5 368.6 L315.5 391.9" stroke="#222" stroke-width="2.4" fill="none" stroke-dasharray="2.5 6" />
<path d="M263.5 339 L259 341" stroke="#222" stroke-width="1.6" fill="none" />
<path d="M267 336.5 L272 347" stroke="#222" stroke-width="1.5" fill="none" />
<path d="M271 337 L283 353" stroke="#222" stroke-width="1.5" fill="none" />
<path d="M289 381 L309 412.7" stroke="#222" stroke-width="1.8" fill="none" />
<path d="M295.4 382.7 L317 416.5" stroke="#222" stroke-width="1.8" fill="none" />
<path d="M303 387.3 L326 422.7" stroke="#222" stroke-width="3.2" fill="none" />
<path d="M307.7 390.4 L337 427.3" stroke="#222" stroke-width="3.2" fill="none" />
<path d="M320 397 L344.6 428.8" stroke="#222" stroke-width="1.8" fill="none" />
<path d="M309 412.7 L313 408" stroke="#222" stroke-width="1.3" fill="none" />
<path d="M317 416.5 L321 412" stroke="#222" stroke-width="1.3" fill="none" />
<path d="M326 422.7 L330 418" stroke="#222" stroke-width="1.3" fill="none" />
<path d="M337 427.3 L340.5 423" stroke="#222" stroke-width="1.3" fill="none" />
<path d="M440 176 L548 176" stroke="#fff" stroke-width="6.5" stroke-dasharray="7 2.5" stroke-opacity="0.8" stroke-linecap="butt" fill="none"/>
</g>
</svg>
</body></html>
